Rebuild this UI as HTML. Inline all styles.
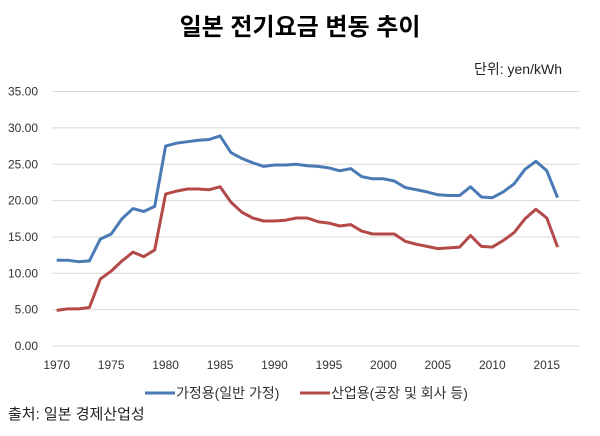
<!DOCTYPE html>
<html><head><meta charset="utf-8"><style>
body{margin:0;background:#fff;width:600px;height:431px;overflow:hidden}
text{font-family:"Liberation Sans","Noto Sans CJK KR",sans-serif}
</style></head><body>
<svg id="s" width="600" height="431" xmlns="http://www.w3.org/2000/svg">
<text x="300" y="35" text-anchor="middle" font-size="24" font-weight="bold" fill="#000">일본 전기요금 변동 추이</text>
<text x="562" y="74" text-anchor="end" font-size="14" fill="#222">단위: yen/kWh</text>
<g id="g"></g>
<line x1="145" y1="393" x2="175" y2="393" stroke="#4a7ab5" stroke-width="3"/>
<text x="176" y="398" font-size="14" fill="#333">가정용(일반 가정)</text>
<line x1="300" y1="393" x2="330" y2="393" stroke="#b34a48" stroke-width="3"/>
<text x="331" y="398" font-size="14" fill="#333">산업용(공장 및 회사 등)</text>
<text x="8" y="419" font-size="15" fill="#222">출처: 일본 경제산업성</text>
</svg>
<script>
var g=document.getElementById('g'),h='';
function Y(v){return 346-v*7.27}
function X(i){return 56.7+i*10.89}
for(var k=0;k<=7;k++){var y=Y(k*5);h+='<line x1="52" x2="580" y1="'+y+'" y2="'+y+'" stroke="#d9d9d9" stroke-width="1"/>';
h+='<text x="38" y="'+(y+4)+'" text-anchor="end" font-size="12" fill="#333">'+(k*5).toFixed(2)+'</text>';}
for(var yr=1970;yr<=2015;yr+=5){h+='<text x="'+X(yr-1970)+'" y="369" text-anchor="middle" font-size="12" fill="#333">'+yr+'</text>';}
var b=[11.8,11.8,11.6,11.7,14.7,15.4,17.5,18.9,18.5,19.2,27.5,27.9,28.1,28.3,28.4,28.9,26.6,25.8,25.2,24.7,24.9,24.9,25.0,24.8,24.7,24.5,24.1,24.4,23.3,23.0,23.0,22.7,21.8,21.5,21.2,20.8,20.7,20.7,21.9,20.5,20.4,21.2,22.3,24.3,25.4,24.1,20.4];
var r=[4.9,5.1,5.1,5.3,9.2,10.3,11.7,12.9,12.3,13.2,20.9,21.3,21.6,21.6,21.5,21.9,19.8,18.4,17.6,17.2,17.2,17.3,17.6,17.6,17.1,16.9,16.5,16.7,15.8,15.4,15.4,15.4,14.4,14.0,13.7,13.4,13.5,13.6,15.2,13.7,13.6,14.5,15.6,17.5,18.8,17.6,13.6];
function pl(a,c){return '<polyline fill="none" stroke="'+c+'" stroke-width="3" stroke-linejoin="round" points="'+a.map(function(v,i){return X(i).toFixed(1)+','+Y(v).toFixed(1)}).join(' ')+'"/>'}
h+=pl(b,'#4a7ab5')+pl(r,'#b34a48');
g.innerHTML=h;
</script>
</body></html>
